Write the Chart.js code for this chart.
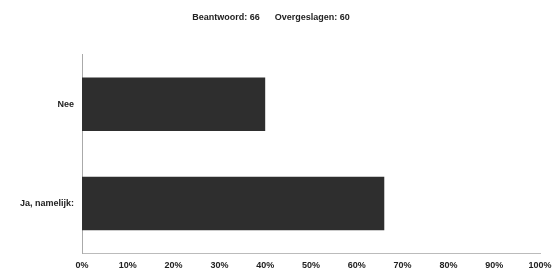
<!DOCTYPE html>
<html>
<head>
<meta charset="utf-8">
<script src="https://cdn.jsdelivr.net/npm/chart.js@4"></script>
<style>
  html, body { margin: 0; padding: 0; background: #fff; }
  #wrap { width: 552px; height: 273px; }
</style>
</head>
<body>
<div id="wrap"><canvas id="c"></canvas></div>
<script>
// survey answers, percentage of respondents
const categories = ['Nee', 'Ja, namelijk:'];
const percentages = [40, 66];
const tickLabels = ['0%', '10%', '20%', '30%', '40%', '50%', '60%', '70%', '80%', '90%', '100%'];
const answered = 66;
const skipped = 60;

const font = { family: 'Liberation Sans, Arial, sans-serif', size: 9, weight: 'bold' };

new Chart(document.getElementById('c'), {
    type: 'bar',
    data: {
        labels: categories,
        datasets: [{
            data: percentages,
            backgroundColor: '#2e2e2e',
            borderWidth: 0,
            barPercentage: 0.54,
            categoryPercentage: 1
        }]
    },
    options: {
        indexAxis: 'y',
        responsive: true,
        maintainAspectRatio: false,
        animation: false,
        layout: { padding: 0 },
        plugins: {
            legend: { display: false },
            tooltip: { enabled: false },
            title: {
                display: true,
                // trailing spaces nudge the centred title a bit to the left, like the original
                text: 'Beantwoord: ' + answered + '      Overgeslagen: ' + skipped + '    ',
                color: '#222',
                font: { family: font.family, size: 9, weight: 'bold' },
                padding: { top: 12, bottom: 32 }
            }
        },
        scales: {
            x: {
                min: 0,
                max: 100,
                afterFit: scale => {
                    scale.height = 20;
                    scale.paddingLeft = 0;
                    scale.paddingRight = 12;
                },
                afterBuildTicks: scale => {
                    scale.ticks = tickLabels.map((t, i) => ({ value: i * 10 }));
                },
                ticks: {
                    callback: (v, i) => tickLabels[i],
                    color: '#222',
                    font: font,
                    padding: 7,
                    maxRotation: 0,
                    autoSkip: false
                },
                grid: { display: false, drawTicks: false },
                border: { display: true, color: '#bbb', dash: [3, 5], width: 1 }
            },
            y: {
                afterFit: scale => { scale.width = 82; },
                ticks: {
                    color: '#222',
                    font: font,
                    padding: 8
                },
                grid: { display: false, drawTicks: false },
                border: { display: true, color: '#aaa', dash: [2, 4], width: 1 }
            }
        }
    }
});
</script>
</body>
</html>
